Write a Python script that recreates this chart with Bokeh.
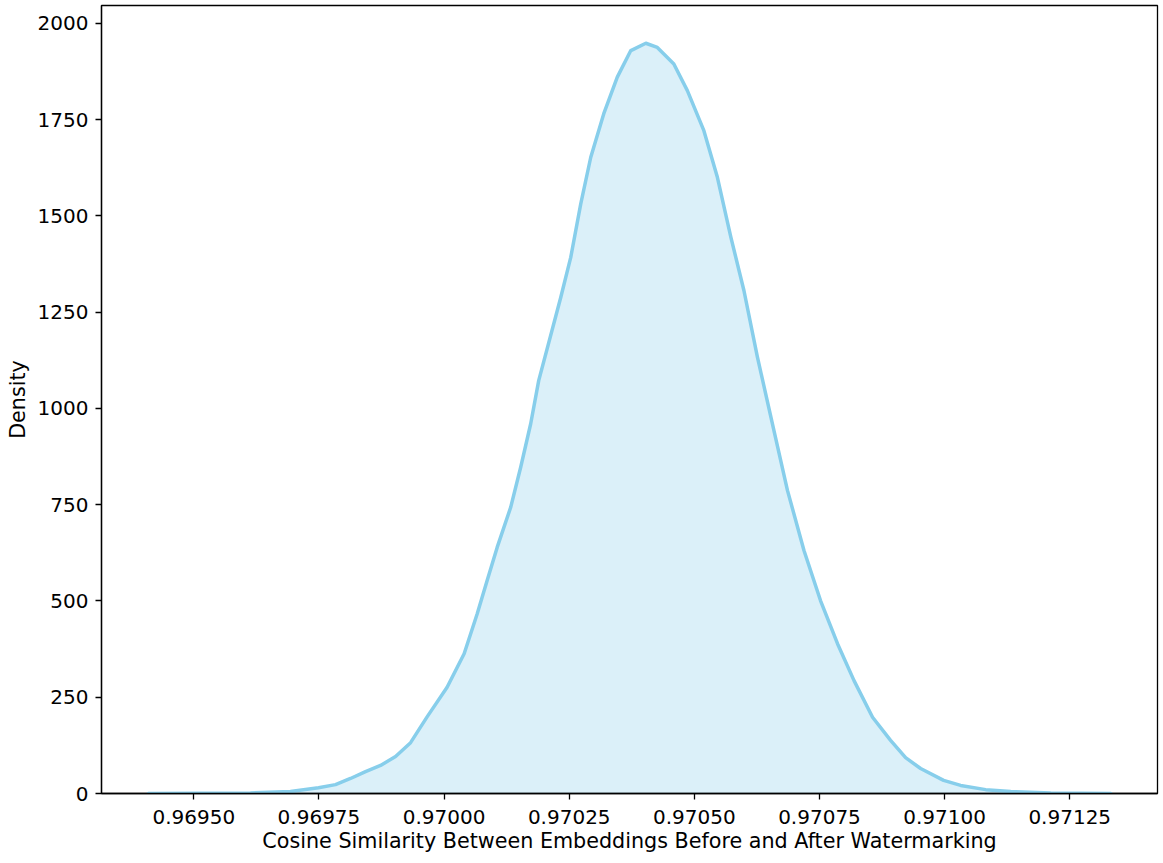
from bokeh.plotting import figure
from bokeh.models import Range1d, FixedTicker, PrintfTickFormatter, ColumnDataSource
from bokeh.embed import file_html
from bokeh.resources import INLINE

# Cosine similarity (x) and KDE density (y)
similarity = [0.969409, 0.969513, 0.969613, 0.969693, 0.969749, 0.969783, 0.969813,
              0.969843, 0.969873, 0.969903, 0.969933, 0.969966, 0.970006, 0.970040,
              0.970066, 0.970086, 0.970106, 0.970133, 0.970153, 0.970173, 0.970189,
              0.970233, 0.970253, 0.970273, 0.970293, 0.970319, 0.970346, 0.970373,
              0.970403, 0.970426, 0.970459, 0.970486, 0.970519, 0.970546, 0.970573,
              0.970599, 0.970626, 0.970659, 0.970686, 0.970719, 0.970752, 0.970786,
              0.970819, 0.970856, 0.970892, 0.970922, 0.970952, 0.970998, 0.971032,
              0.971082, 0.971132, 0.971212, 0.971332]
density = [0, 0.5, 1.3, 5, 15, 23, 39,
           57, 73, 96, 132, 199, 276, 363,
           466, 553, 639, 743, 847, 960, 1072,
           1288, 1392, 1531, 1652, 1765, 1860, 1929,
           1948, 1937, 1894, 1825, 1721, 1600, 1444,
           1306, 1133, 942, 787, 631, 501, 389,
           293, 198, 138, 93, 65, 34, 21,
           10, 5, 1.3, 0]

x_ticks = [0.96950, 0.96975, 0.97000, 0.97025, 0.97050, 0.97075, 0.97100, 0.97125]
y_ticks = [0, 250, 500, 750, 1000, 1250, 1500, 1750, 2000]

x_label = "Cosine Similarity Between Embeddings Before and After Watermarking"
y_label = "Density"

src = ColumnDataSource(dict(x=similarity, y=density, y0=[0] * len(density)))

p = figure(width=1160, height=860, output_backend="svg", toolbar_location=None,
           x_range=Range1d(0.9693155, 0.9714253), y_range=Range1d(0, 2046),
           min_border_left=101, min_border_right=3, min_border_top=5, min_border_bottom=67)

p.varea(x="x", y1="y0", y2="y", source=src, fill_color="#87CEEB", fill_alpha=0.3)
p.line(x="x", y="y", source=src, line_color="#87CEEB", line_width=3.5,
       line_join="round", line_cap="round")

p.grid.visible = False
p.outline_line_color = "black"
p.outline_line_width = 1.3
p.background_fill_color = "white"
p.border_fill_color = "white"

font = "DejaVu Sans"
for ax in (p.xaxis[0], p.yaxis[0]):
    ax.axis_line_color = "black"
    ax.axis_line_width = 1.3
    ax.major_tick_line_color = "black"
    ax.major_tick_line_width = 1.3
    ax.major_tick_out = 6
    ax.major_tick_in = 0
    ax.minor_tick_line_color = None
    ax.major_label_text_font = font
    ax.major_label_text_font_size = "20px"
    ax.major_label_text_color = "black"
    ax.axis_label_text_font = font
    ax.axis_label_text_font_size = "20.7px"
    ax.axis_label_text_font_style = "normal"
    ax.axis_label_text_color = "black"

p.xaxis[0].ticker = FixedTicker(ticks=x_ticks)
p.xaxis[0].formatter = PrintfTickFormatter(format="%.5f")
p.xaxis[0].axis_label = x_label
p.xaxis[0].major_label_standoff = 10
p.xaxis[0].axis_label_standoff = 2

p.yaxis[0].ticker = FixedTicker(ticks=y_ticks)
p.yaxis[0].formatter = PrintfTickFormatter(format="%d")
p.yaxis[0].axis_label = y_label
p.yaxis[0].major_label_standoff = 7
p.yaxis[0].axis_label_standoff = 5

open("out.html", "w").write(file_html(p, INLINE))
